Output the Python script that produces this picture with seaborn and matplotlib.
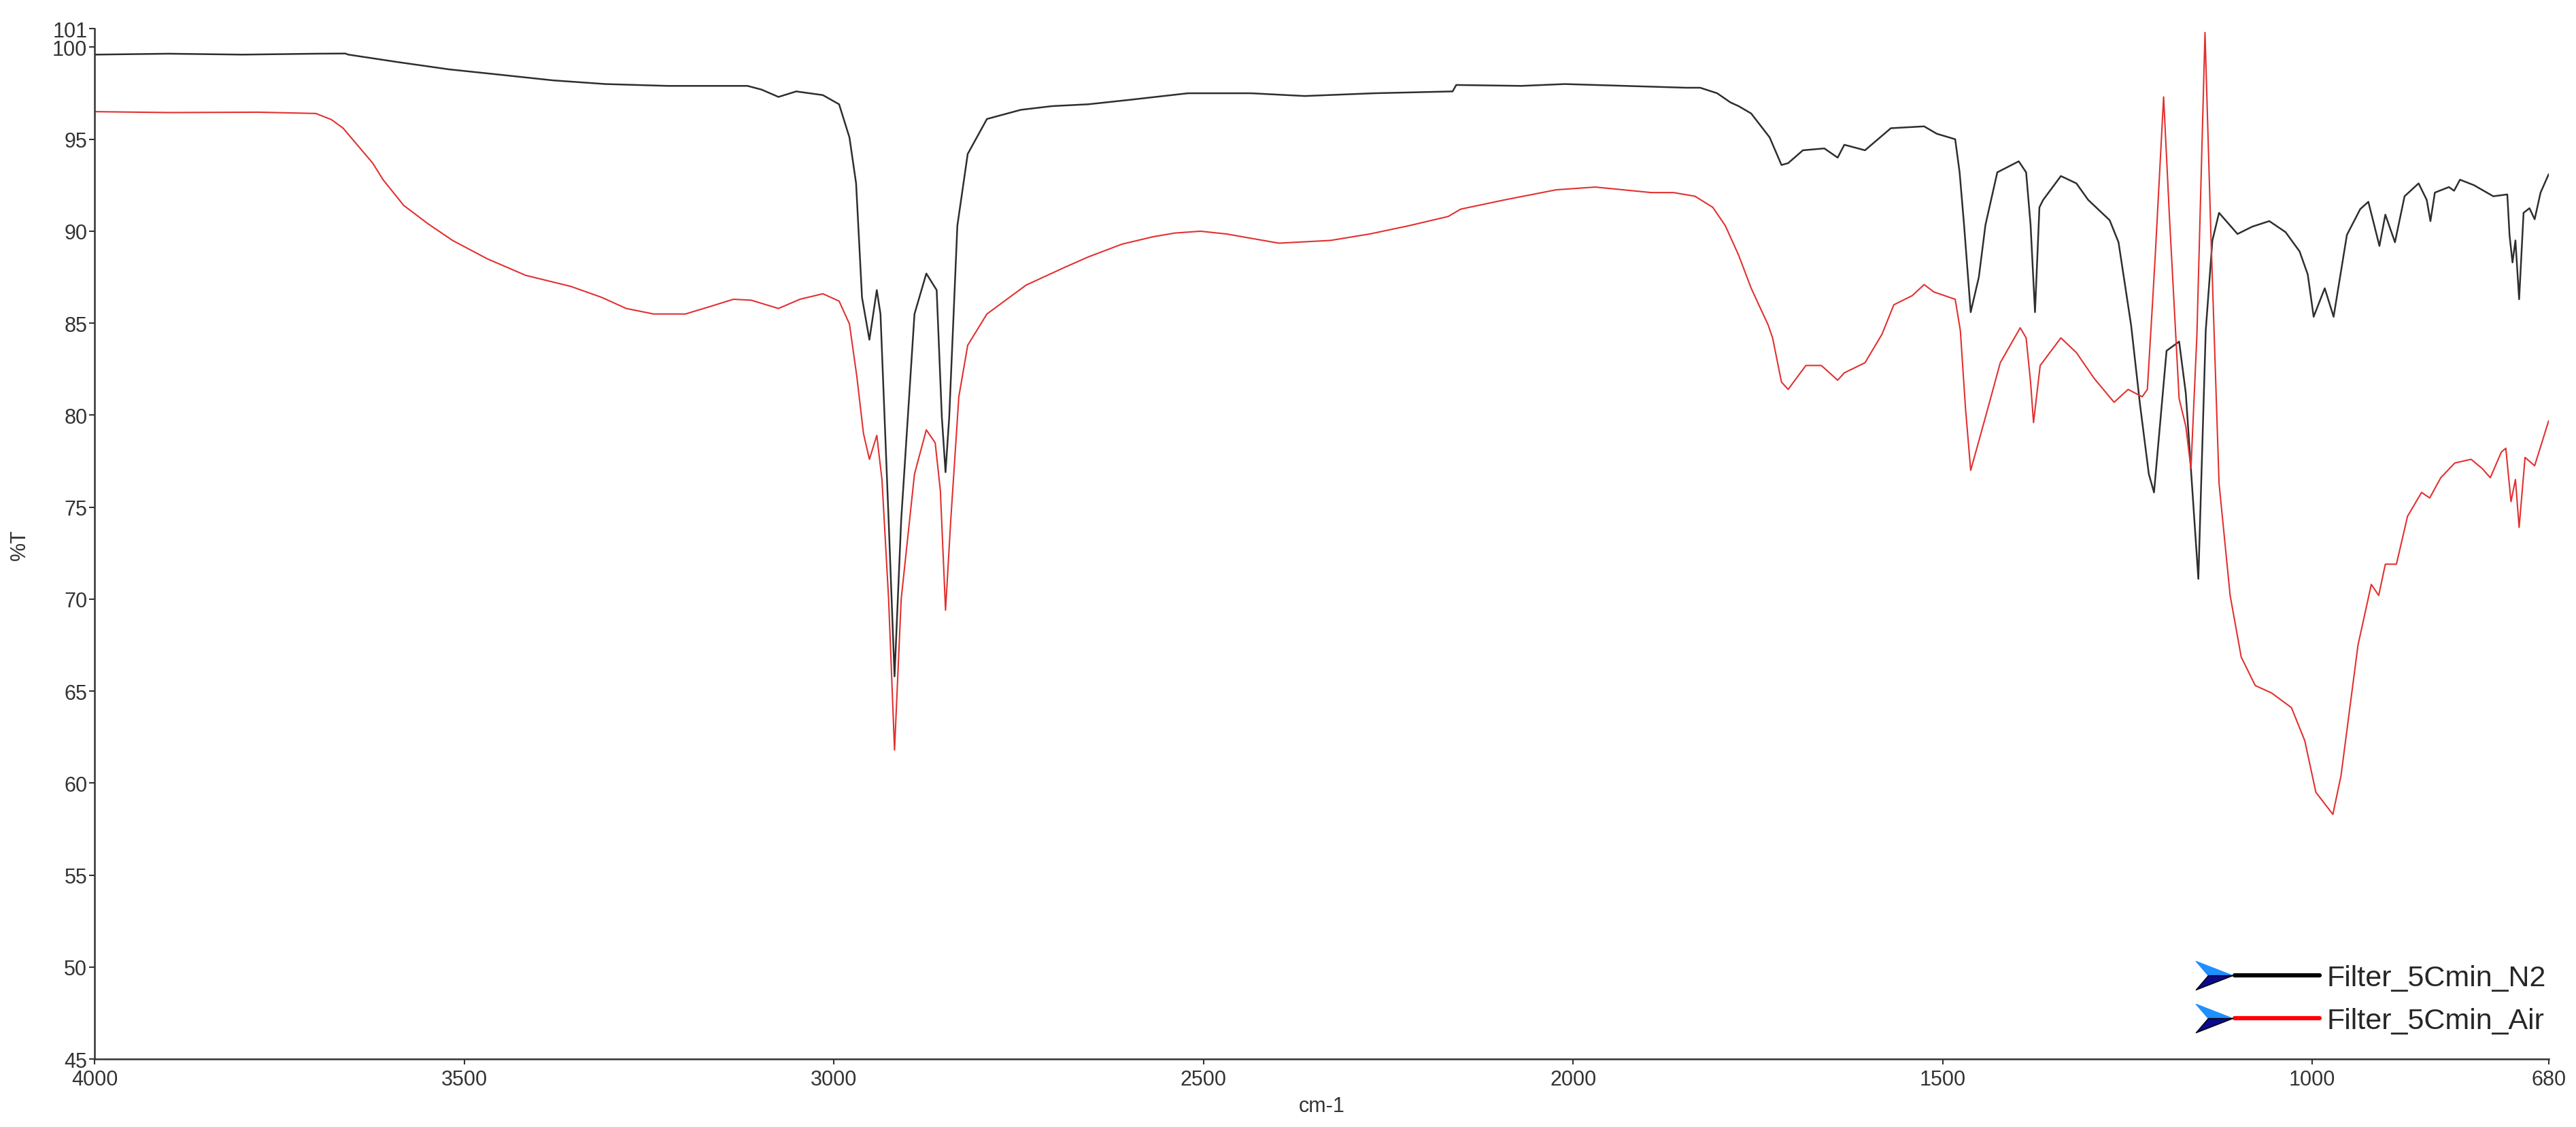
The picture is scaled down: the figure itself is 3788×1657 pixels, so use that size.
import pandas as pd
import matplotlib
matplotlib.use('Agg')
import matplotlib.pyplot as plt
from matplotlib.lines import Line2D
from matplotlib.path import Path
from matplotlib.legend_handler import HandlerTuple
import seaborn as sns

# Espectros FTIR: (número de onda cm-1, %T)
n2_points = [
    (4000, 99.6), (3900, 99.65), (3800, 99.6), (3700, 99.65), (3661, 99.66), (3657, 99.6),
    (3591, 99.2), (3521, 98.8), (3450, 98.5), (3380, 98.2), (3309, 98.0), (3225, 97.9),
    (3117, 97.9), (3098, 97.7), (3075, 97.3), (3051, 97.6), (3015, 97.4), (2993, 96.9),
    (2979, 95.1), (2970, 92.6), (2962, 86.4), (2952, 84.1), (2942, 86.8), (2937, 85.5),
    (2926, 74.3), (2918, 65.8), (2909, 74.3), (2891, 85.5), (2875, 87.7), (2861, 86.8),
    (2854, 79.9), (2849, 76.9), (2844, 79.9), (2833, 90.3), (2819, 94.2), (2793, 96.1),
    (2747, 96.6), (2705, 96.8), (2656, 96.9), (2598, 97.15), (2521, 97.5), (2436, 97.5),
    (2363, 97.35), (2269, 97.5), (2163, 97.6), (2158, 97.95), (2070, 97.9), (2011, 98.0),
    (1847, 97.8), (1828, 97.8), (1805, 97.5), (1787, 97.0), (1776, 96.8), (1759, 96.4),
    (1734, 95.1), (1718, 93.6), (1709, 93.7), (1689, 94.4), (1660, 94.5), (1642, 94.0),
    (1633, 94.7), (1605, 94.4), (1570, 95.6), (1525, 95.7), (1508, 95.3), (1483, 95.0),
    (1477, 93.2), (1471, 90.35), (1462, 85.6), (1451, 87.5), (1442, 90.35), (1426, 93.2),
    (1397, 93.8), (1387, 93.2), (1381, 90.35), (1375, 85.6), (1369, 91.3), (1364, 91.7),
    (1340, 93.0), (1319, 92.6), (1303, 91.7), (1274, 90.6), (1262, 89.4), (1245, 84.9),
    (1233, 80.6), (1221, 76.8), (1214, 75.8), (1197, 83.5), (1180, 84.0), (1171, 81.2),
    (1154, 71.1), (1144, 84.6), (1135, 89.5), (1126, 91.0), (1101, 89.85), (1081, 90.25),
    (1058, 90.55), (1036, 89.95), (1017, 88.9), (1006, 87.65), (998, 85.35), (983, 86.9),
    (971, 85.35), (953, 89.8), (935, 91.2), (924, 91.6), (909, 89.2), (901, 90.9),
    (888, 89.4), (875, 91.9), (856, 92.6), (845, 91.7), (840, 90.55), (834, 92.1),
    (815, 92.4), (808, 92.2), (800, 92.8), (781, 92.5), (755, 91.9), (736, 92.0),
    (733, 89.8), (729, 88.3), (725, 89.5), (720, 86.3), (714, 91.0), (706, 91.25),
    (699, 90.65), (691, 92.1), (680, 93.1),
]

air_points = [
    (4000, 96.5), (3900, 96.45), (3779, 96.47), (3701, 96.4), (3680, 96.07), (3664, 95.6),
    (3643, 94.6), (3624, 93.7), (3610, 92.8), (3582, 91.4), (3549, 90.4), (3516, 89.5),
    (3469, 88.5), (3417, 87.6), (3356, 87.0), (3314, 86.4), (3281, 85.8), (3244, 85.5),
    (3201, 85.5), (3168, 85.9), (3136, 86.3), (3112, 86.25), (3075, 85.8), (3046, 86.3),
    (3015, 86.6), (2993, 86.2), (2979, 84.96), (2969, 82.1), (2960, 79.0), (2952, 77.6),
    (2942, 78.9), (2935, 76.5), (2926, 70.0), (2918, 61.8), (2909, 70.0), (2891, 76.8),
    (2875, 79.2), (2863, 78.5), (2856, 75.9), (2849, 69.4), (2842, 74.25), (2831, 81.0),
    (2819, 83.8), (2793, 85.5), (2740, 87.07), (2687, 88.05), (2656, 88.6), (2610, 89.3),
    (2568, 89.7), (2539, 89.9), (2504, 90.0), (2469, 89.85), (2398, 89.35), (2328, 89.5),
    (2275, 89.85), (2222, 90.3), (2169, 90.8), (2152, 91.2), (2093, 91.7), (2023, 92.25),
    (1970, 92.4), (1894, 92.1), (1864, 92.1), (1835, 91.9), (1811, 91.3), (1794, 90.3),
    (1776, 88.7), (1759, 86.9), (1736, 84.9), (1730, 84.2), (1718, 81.8), (1709, 81.4),
    (1685, 82.7), (1664, 82.7), (1642, 81.9), (1633, 82.3), (1605, 82.85), (1582, 84.4),
    (1566, 86.0), (1541, 86.5), (1525, 87.1), (1512, 86.7), (1483, 86.3), (1476, 84.6),
    (1469, 80.35), (1462, 77.0), (1442, 79.9), (1422, 82.85), (1395, 84.75), (1387, 84.2),
    (1381, 81.8), (1377, 79.6), (1368, 82.7), (1340, 84.2), (1319, 83.4), (1295, 82.0),
    (1268, 80.7), (1249, 81.4), (1230, 81.0), (1223, 81.4), (1216, 86.1), (1212, 88.9),
    (1201, 97.3), (1193, 90.7), (1180, 80.9), (1171, 79.4), (1164, 77.1), (1156, 84.3),
    (1145, 100.8), (1137, 89.8), (1126, 76.3), (1111, 70.2), (1096, 66.85), (1077, 65.3),
    (1055, 64.9), (1028, 64.1), (1010, 62.3), (995, 59.5), (972, 58.3), (961, 60.4),
    (938, 67.5), (920, 70.8), (910, 70.2), (901, 71.9), (886, 71.9), (871, 74.5),
    (852, 75.8), (841, 75.5), (826, 76.6), (807, 77.4), (785, 77.6), (770, 77.1),
    (759, 76.6), (744, 78.0), (738, 78.2), (731, 75.3), (725, 76.5), (720, 73.9),
    (712, 77.7), (699, 77.25), (680, 79.7),
]

labels = ['Filter_5Cmin_N2', 'Filter_5Cmin_Air']
x_ticks = [4000, 3500, 3000, 2500, 2000, 1500, 1000, 680]
y_ticks = [45, 50, 55, 60, 65, 70, 75, 80, 85, 90, 95, 100, 101]

n2 = pd.DataFrame(n2_points, columns=['wn', 'T'])
air = pd.DataFrame(air_points, columns=['wn', 'T'])

sns.set_style('ticks')
plt.rcParams['font.family'] = ['Liberation Sans Narrow', 'Liberation Sans', 'DejaVu Sans']

fig = plt.figure(figsize=(37.88, 16.58), dpi=100)
ax = fig.add_axes([0.0368, 0.0603, 0.9526, 0.9135])

sns.lineplot(data=n2, x='wn', y='T', color='#2e2e2e', linewidth=1.8,
             estimator=None, sort=False, ax=ax)
sns.lineplot(data=air, x='wn', y='T', color='#e2302f', linewidth=1.5,
             estimator=None, sort=False, ax=ax)

ax.set_xlim(4000, 680)
ax.set_ylim(45, 101)
ax.set_xticks(x_ticks)
ax.set_yticks(y_ticks)
ax.set_xlabel('cm-1', fontsize=22, color='#333333', labelpad=6)
ax.set_ylabel('%T', fontsize=22, color='#333333', labelpad=24)
ax.tick_params(axis='both', labelsize=22, colors='#333333', length=6, width=1.5, pad=2)
ax.tick_params(axis='x', pad=5)
sns.despine(ax=ax)
for s in ['left', 'bottom']:
    ax.spines[s].set_linewidth(1.8)
    ax.spines[s].set_color('#333333')

# legenda com setinhas azuis
chev_top = Path([(-120, 21), (-66, 0), (-102, 0), (-120, 21)], closed=True)
chev_bot = Path([(-102, 0), (-66, 0), (-120, -21), (-102, 0)], closed=True)
handles = []
for c in ['#000000', '#ff0000']:
    ln = Line2D([], [], color=c, linewidth=4.5)
    t = Line2D([], [], linestyle='none', marker=chev_top, markersize=173,
               markerfacecolor='#1e90ff', markeredgecolor='#1e90ff')
    b = Line2D([], [], linestyle='none', marker=chev_bot, markersize=173,
               markerfacecolor='#0a0a8c', markeredgecolor='#000000')
    handles.append((ln, t, b))
ax.legend(handles, labels, handler_map={tuple: HandlerTuple(ndivide=1)},
          loc='upper right', bbox_to_anchor=(0.999, 0.092), frameon=False,
          handlelength=2.9, handletextpad=0.25, labelspacing=0.55,
          borderpad=0, borderaxespad=0, prop={'family': ['Liberation Sans', 'DejaVu Sans'], 'size': 31})

plt.savefig('out.png', dpi=100)
